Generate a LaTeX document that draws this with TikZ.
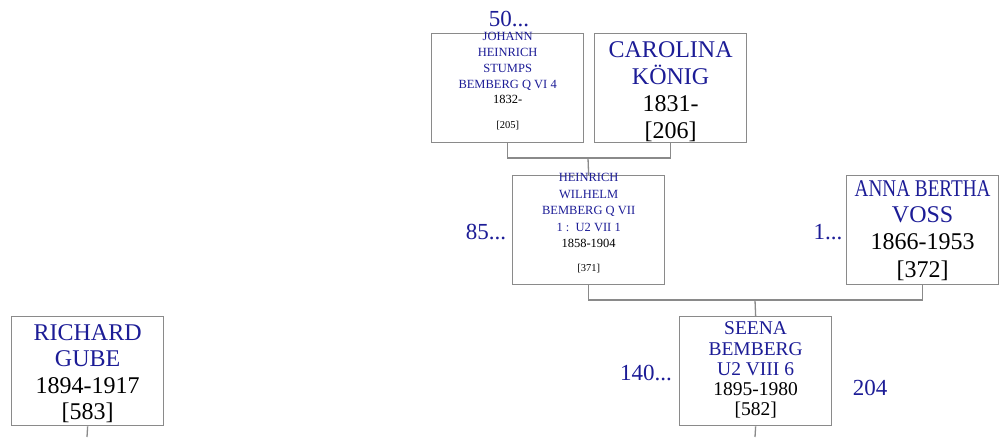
\documentclass[tikz,border=0pt]{standalone}
\usepackage{fontspec}
\usepackage{graphicx}
\setmainfont{Liberation Serif}
\usetikzlibrary{calc}
\definecolor{nm}{HTML}{1C1C96}
\definecolor{bx}{HTML}{8A8A8A}
\tikzset{
  personbox/.style={draw=bx, line width=1.3pt, minimum width=152pt, minimum height=109pt, inner sep=0pt, anchor=north west},
  ptext/.style={align=center, inner sep=0pt},
  conn/.style={draw=bx, line width=1.3pt},
  numlab/.style={text=nm, font=\fontsize{23}{25}\selectfont, inner sep=0pt},
}
\newcommand{\nmc}{\color{nm}}
\newcommand{\dtc}{\color{black}}
\newcommand{\smd}{\fontsize{12.5}{17}\selectfont\color{black}}
\newcommand{\smb}{\fontsize{10.5}{17}\selectfont\color{black}}
\begin{document}
\begin{tikzpicture}[x=1pt,y=-1pt]
\useasboundingbox (0,0) rectangle (999,437);
% boxes
\node[personbox] (jh) at (431,33) {};
\node[personbox] (ck) at (594,33) {};
\node[personbox] (hw) at (512,175) {};
\node[personbox] (ab) at (846,175) {};
\node[personbox] (sb) at (679,316) {};
\node[personbox] (rg) at (11,316) {};
% texts
\node[ptext, font=\fontsize{12.5}{16.3}\selectfont] (jht) at ($(jh.center)+(0,-7.5)$)
  {\nmc JOHANN\\\nmc HEINRICH\\\nmc STUMPS\\\nmc BEMBERG Q VI 4\\[-1.5pt]\smd 1832-\\[8pt]\smb [205]};
\node[ptext, font=\fontsize{24}{27}\selectfont] (ckt) at ($(ck.center)+(0,4)$)
  {\nmc CAROLINA\\\nmc KÖNIG\\\dtc 1831-\\\dtc [206]};
\node[ptext, font=\fontsize{12.5}{16.5}\selectfont] (hwt) at ($(hw.center)+(0,-7)$)
  {\nmc HEINRICH\\\nmc WILHELM\\\nmc BEMBERG Q VII\\\nmc 1 :\ \ U2 VII 1\\\smd 1858-1904\\[7pt]\smb [371]};
\node[ptext, font=\fontsize{24}{26.8}\selectfont] (abt) at ($(ab.center)+(0,0.5)$)
  {\nmc\scalebox{0.8}[1]{ANNA BERTHA}\\\nmc VOSS\\\dtc 1866-1953\\[1.5pt]\dtc [372]};
\node[ptext, font=\fontsize{19.5}{20.3}\selectfont] (sbt) at ($(sb.center)+(0,-1)$)
  {\nmc SEENA\\\nmc BEMBERG\\\nmc U2 VIII 6\\\dtc 1895-1980\\\dtc [582]};
\node[ptext, font=\fontsize{24}{26.5}\selectfont] (rgt) at ($(rg.center)+(0,2.5)$)
  {\nmc RICHARD\\\nmc GUBE\\\dtc 1894-1917\\\dtc [583]};
% number labels
\node[numlab] (l50) at (509,19) {50...};
\node[numlab] (l85) at (486,232) {85...};
\node[numlab] (l1) at (828,232) {1...};
\node[numlab] (l140) at (646,373) {140...};
\node[numlab] (l204) at (870,388) {204};
% connectors
\coordinate (m1) at (588,158);
\coordinate (m2) at (755,300);
\coordinate (se) at (755,437);
\coordinate (re) at (87,437);
\draw[conn] (jh.south) |- (m1) -| (ck.south);
\draw[conn] (m1) -- (hw.north);
\draw[conn] (hw.south) |- (m2) -| (ab.south);
\draw[conn] (m2) -- (sb.north);
\draw[conn] (sb.south) -- (se);
\draw[conn] (rg.south) -- (re);
\end{tikzpicture}
\end{document}
